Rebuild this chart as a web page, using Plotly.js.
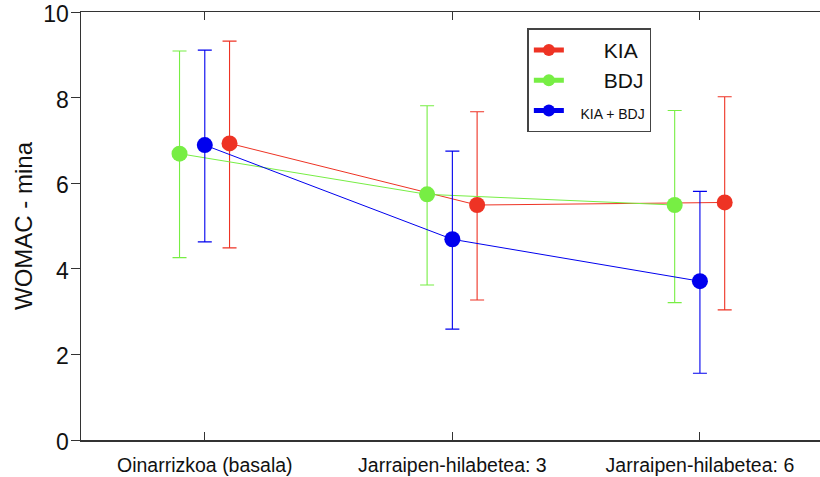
<!DOCTYPE html>
<html>
<head>
<meta charset="utf-8">
<script src="https://cdn.plot.ly/plotly-3.0.1.min.js"></script>
<style>html,body{margin:0;padding:0;background:#fff;}#chart{width:820px;height:477px;}</style>
</head>
<body>
<div id="chart"></div>
<script>
const categories = ["Oinarrizkoa (basala)", "Jarraipen-hilabetea: 3", "Jarraipen-hilabetea: 6"];
const seriesNames = ["KIA", "BDJ", "KIA + BDJ"];

const kiaMean  = [6.93, 5.49, 5.55];
const kiaUpper = [9.32, 7.67, 8.02];
const kiaLower = [4.49, 3.27, 3.04];

const bdjMean  = [6.69, 5.74, 5.49];
const bdjUpper = [9.09, 7.81, 7.70];
const bdjLower = [4.26, 3.62, 3.21];

const bothMean  = [6.89, 4.69, 3.71];
const bothUpper = [9.11, 6.75, 5.81];
const bothLower = [4.63, 2.59, 1.56];

const yTicks = [0, 2, 4, 6, 8, 10];

const colors = ["#ee3324", "#77ee44", "#0000ee"];
const offsets = [0.1, -0.102, 0];
const legendLabels = [
  "&nbsp;&nbsp;&nbsp;&nbsp;&nbsp;&nbsp;" + seriesNames[0],
  "&nbsp;&nbsp;&nbsp;&nbsp;&nbsp;&nbsp;" + seriesNames[1],
  '<span style="font-size:14px">&nbsp;&nbsp;&nbsp;' + seriesNames[2] + '</span>'
];

function makeTrace(i, mean, upper, lower) {
  return {
    type: "scatter",
    mode: "lines+markers",
    name: legendLabels[i],
    x: categories.map((c, k) => k + 1 + offsets[i]),
    y: mean,
    line: {color: colors[i], width: 1},
    marker: {color: colors[i], size: 16, line: {width: 0}},
    error_y: {
      type: "data", symmetric: false,
      array: upper.map((u, k) => u - mean[k]),
      arrayminus: mean.map((m, k) => m - lower[k]),
      color: colors[i], thickness: 1.1, width: 7
    },
    hoverinfo: "skip"
  };
}

const data = [
  makeTrace(0, kiaMean, kiaUpper, kiaLower),
  makeTrace(1, bdjMean, bdjUpper, bdjLower),
  makeTrace(2, bothMean, bothUpper, bothLower)
];

const layout = {
  width: 820, height: 477,
  margin: {l: 81, r: 0, t: 12, b: 37, pad: 0},
  paper_bgcolor: "#fff", plot_bgcolor: "#fff",
  font: {family: "Liberation Sans, Arial, sans-serif", color: "#111"},
  showlegend: true,
  legend: {
    x: 0.604, y: 0.962, xanchor: "left", yanchor: "top",
    bordercolor: "#444", borderwidth: 1.5, bgcolor: "#fff",
    font: {size: 21, color: "#111"},
    itemsizing: "constant"
  },
  xaxis: {
    range: [0.5, 3.485],
    tickvals: categories.map((c, k) => k + 1),
    ticktext: categories,
    ticks: "inside", ticklen: 8, tickwidth: 1, tickcolor: "#333",
    showline: true, linecolor: "#333", linewidth: 1.5, mirror: "ticks",
    showgrid: false, zeroline: false,
    tickfont: {size: 19.5, color: "#111"},
    ticklabelstandoff: 7
  },
  yaxis: {
    range: [0, 10],
    tickvals: yTicks,
    ticktext: yTicks.map(String),
    ticks: "outside", ticklen: 9, tickwidth: 1, tickcolor: "#333",
    showline: true, linecolor: "#333", linewidth: 1.5, mirror: false,
    showgrid: false, zeroline: false,
    tickfont: {size: 23, color: "#111"},
    ticklabeloverflow: "allow",
    ticklabelstandoff: -3,
    ticklabelshift: 2,
    title: {text: "WOMAC - mina", font: {size: 24, color: "#111"}, standoff: 4},
    automargin: false
  }
};

Plotly.newPlot("chart", data, layout, {displayModeBar: false, staticPlot: true});
</script>
</body>
</html>
